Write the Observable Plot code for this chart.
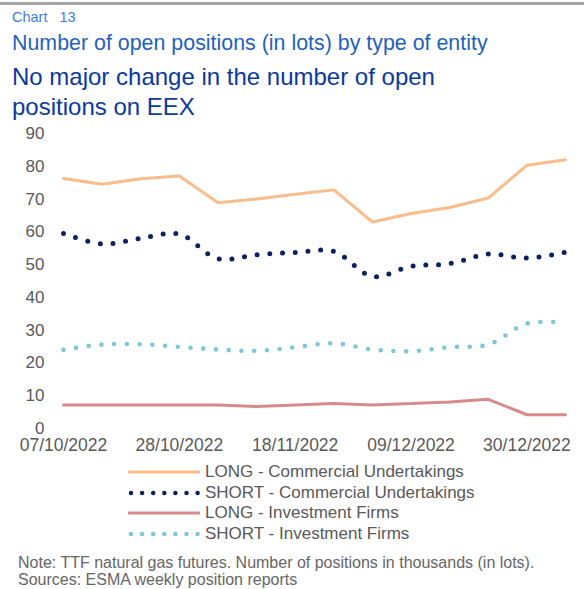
<!DOCTYPE html>
<html>
<head>
<meta charset="utf-8">
<script src="https://cdn.jsdelivr.net/npm/d3@7"></script>
<script src="https://cdn.jsdelivr.net/npm/@observablehq/plot@0.6"></script>
<style>
  html, body { margin: 0; padding: 0; background: #fff; }
  body { width: 584px; height: 589px; position: relative; overflow: hidden; font-family: "Liberation Sans", Arial, sans-serif; }
  .abs { position: absolute; white-space: nowrap; }
  #topline { position: absolute; left: 0; top: 2px; width: 584px; height: 3px; background: #a6a6a6; }
  #chartno { left: 12px; top: 9px; font-size: 14.5px; color: #3d7fe0; }
  #title { left: 12px; top: 31px; font-size: 21.4px; color: #1f62bd; }
  #subtitle { left: 12px; top: 62px; font-size: 24px; line-height: 30px; color: #0a3a9e; white-space: normal; width: 450px; }
  #plot { position: absolute; left: 0; top: 120px; }
  #legend { position: absolute; left: 128px; top: 462px; }
  .lrow { display: flex; align-items: center; height: 20.5px; }
  .lrow svg { margin-right: 5px; }
  .lrow span { font-size: 17px; color: #595959; }
  #note { left: 18px; top: 554px; font-size: 16px; color: #666; line-height: 17px; }
</style>
</head>
<body>
<div id="topline"></div>
<div id="chartno" class="abs">Chart&nbsp;&nbsp;&nbsp;13</div>
<div id="title" class="abs">Number of open positions (in lots) by type of entity</div>
<div id="subtitle" class="abs">No major change in the number of open positions on EEX</div>
<div id="plot"></div>
<div id="legend"></div>
<div id="note" class="abs">Note: TTF natural gas futures. Number of positions in thousands (in lots).<br>Sources: ESMA weekly position reports</div>
<script>
const dates = ["2022-10-07","2022-10-14","2022-10-21","2022-10-28","2022-11-04","2022-11-11","2022-11-18","2022-11-25","2022-12-02","2022-12-09","2022-12-16","2022-12-23","2022-12-30","2023-01-06"];
const tickDates = ["2022-10-07","2022-10-28","2022-11-18","2022-12-09","2022-12-30"];
const yTicks = [0,10,20,30,40,50,60,70,80,90];

const longCommercial  = [76.3,74.5,76.2,77.0,68.9,70.0,71.5,72.8,63.0,65.6,67.4,70.3,80.3,82.0];
const shortCommercial = [59.5,56.3,58.0,59.3,51.8,53.0,53.7,54.0,46.4,49.5,50.3,53.2,52.0,53.8];
const longInvestment  = [7.2,7.2,7.2,7.2,7.2,6.7,7.2,7.6,7.2,7.6,8.1,8.9,4.2,4.2];
const shortInvestment = [24.0,25.6,25.7,24.9,24.1,23.7,24.8,26.0,24.1,23.6,24.8,25.6,32.0,32.3];

const seriesNames = ["LONG - Commercial Undertakings","SHORT - Commercial Undertakings","LONG - Investment Firms","SHORT - Investment Firms"];
const seriesValues = [longCommercial, shortCommercial, longInvestment, shortInvestment];
const seriesColors = ["#f8bd8a","#0b2160","#d98a88","#7ec6d9"];
const seriesDotted = [false, true, false, true];

const parse = d3.utcParse("%Y-%m-%d");
const rows = [];
seriesNames.forEach((name, i) => {
  seriesValues[i].forEach((v, j) => rows.push({series: name, date: parse(dates[j]), value: v}));
});

const marks = seriesNames.map((name, i) => {
  const data = rows.filter(r => r.series === name);
  if (seriesDotted[i]) {
    return Plot.line(data, {x: "date", y: "value", stroke: seriesColors[i], strokeWidth: i === 1 ? 5 : 4.6,
      strokeDasharray: "0 12.75", strokeLinecap: "round", curve: "catmull-rom"});
  }
  return Plot.line(data, {x: "date", y: "value", stroke: seriesColors[i], strokeWidth: 3, strokeLinejoin: "miter"});
});

const fmt = d3.utcFormat("%d/%m/%Y");
const chart = Plot.plot({
  width: 584,
  height: 338,
  marginLeft: 63,
  marginRight: 19,
  marginTop: 13,
  marginBottom: 30,
  style: {fontFamily: "'Liberation Sans', Arial, sans-serif", fontSize: "17.5px", color: "#595959", background: "transparent"},
  x: {type: "utc", domain: [parse(dates[0]), parse(dates[dates.length - 1])], label: null},
  y: {domain: [0, 90], label: null},
  marks: [
    Plot.axisX({ticks: tickDates.map(parse), tickFormat: fmt, tickSize: 0, tickPadding: 10, label: null, fill: "#595959"}),
    Plot.axisY({ticks: yTicks, tickSize: 0, tickPadding: 19, label: null, fill: "#595959", fontSize: 17}),
    ...marks
  ]
});
document.getElementById("plot").appendChild(chart);

const legend = document.getElementById("legend");
seriesNames.forEach((name, i) => {
  const row = document.createElement("div");
  row.className = "lrow";
  const ns = "http://www.w3.org/2000/svg";
  const s = document.createElementNS(ns, "svg");
  s.setAttribute("width", "72"); s.setAttribute("height", "10");
  const l = document.createElementNS(ns, "line");
  l.setAttribute("y1", "5"); l.setAttribute("y2", "5");
  l.setAttribute("stroke", seriesColors[i]);
  l.setAttribute("stroke-linecap", "round");
  if (seriesDotted[i]) {
    l.setAttribute("x1", "3"); l.setAttribute("x2", "70");
    l.setAttribute("stroke-width", "4.5");
    l.setAttribute("stroke-dasharray", "0 11.1");
  } else {
    l.setAttribute("x1", "1"); l.setAttribute("x2", "71");
    l.setAttribute("stroke-width", "3");
  }
  s.appendChild(l);
  const t = document.createElement("span");
  t.textContent = name;
  row.appendChild(s); row.appendChild(t);
  legend.appendChild(row);
});
</script>
</body>
</html>
